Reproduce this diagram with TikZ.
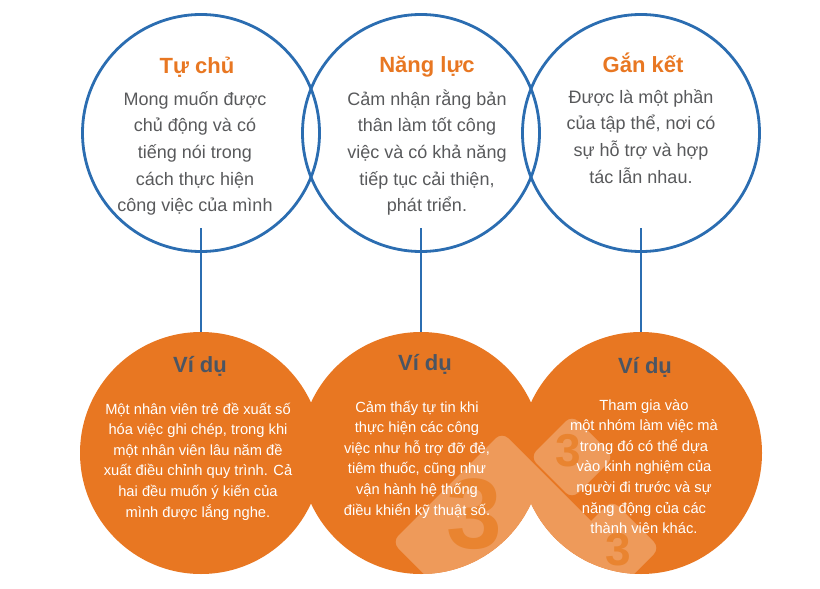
\documentclass[tikz,border=0pt]{standalone}
\usepackage{fontspec}
\setmainfont{Liberation Sans}
\definecolor{cblue}{HTML}{2B6DB1}
\definecolor{corange}{HTML}{E87722}
\definecolor{cgray}{HTML}{58595B}
\definecolor{cslate}{HTML}{4B5563}
\definecolor{cwm}{HTML}{EE9A5A}
\definecolor{cwmnum}{HTML}{E98430}
\newcommand\bodyblue[1]{\parbox[t]{240pt}{\centering\fontsize{18}{26.7}\selectfont\leavevmode\color{cgray}#1}}
\newcommand\bodywhite[1]{\parbox[t]{240pt}{\centering\fontsize{14.7}{20.6}\selectfont\leavevmode\color{white}#1}}
\begin{document}
\begin{tikzpicture}[x=1pt,y=-1pt,
  bcirc/.style={circle, draw=cblue, line width=2.8pt, minimum size=237pt, inner sep=0pt},
  ocirc/.style={circle, fill=corange, minimum size=242pt, inner sep=0pt},
  link/.style={draw=cblue, line width=2.4pt},
  title/.style={anchor=base, inner sep=0pt, font=\fontsize{22}{26}\selectfont\bfseries, text=corange},
  vidu/.style={anchor=base, inner sep=0pt, font=\fontsize{22}{26}\selectfont\bfseries, text=cslate},
  txt/.style={anchor=base, inner sep=0pt},
  wm/.style={fill=cwm, rounded corners=9pt},
  wmnum/.style={inner sep=0pt, text=cwmnum}
]
\useasboundingbox (0,0) rectangle (820,589);
% blue circles
\node[bcirc] (b1) at (201,133) {};
\node[bcirc] (b2) at (421,133) {};
\node[bcirc] (b3) at (641,133) {};
% connector start points
\coordinate (s1) at (201,228);
\coordinate (s2) at (421,228);
\coordinate (s3) at (641,228);
% orange circles
\node[ocirc] (o1) at (201,453) {};
\node[ocirc] (o2) at (421,453) {};
\node[ocirc] (o3) at (641,453) {};
\draw[link] (s1) -- (o1.north);
\draw[link] (s2) -- (o2.north);
\draw[link] (s3) -- (o3.north);
% watermark
\begin{scope}
  \clip (o1.center) circle (121pt) (o2.center) circle (121pt) (o3.center) circle (121pt);
  \path[wm] (502,432) -- (612,542) -- (502,652) -- (392,542) -- cycle;
  \node[wmnum, font=\fontsize{100}{100}\selectfont\bfseries] (n1) at (474,514) {3};
  \path[wm] (572,415) -- (614,457) -- (572,499) -- (530,457) -- cycle;
  \node[wmnum, font=\fontsize{46}{46}\selectfont\bfseries] (n2) at (568,451) {3};
  \path[wm] (612,500) -- (660,548) -- (612,596) -- (564,548) -- cycle;
  \node[wmnum, font=\fontsize{46}{46}\selectfont\bfseries] (n3) at (618,550) {3};
\end{scope}
% titles
\node[title] (t1) at (197,73) {Tự chủ};
\node[title] (t2) at (427,72) {Năng lực};
\node[title] (t3) at (643,72) {Gắn kết};
\node[txt] (d1) at (195,105) {\bodyblue{Mong muốn được\\chủ động và có\\tiếng nói trong\\cách thực hiện\\công việc của mình}};
\node[txt] (d2) at (427,105) {\bodyblue{Cảm nhận rằng bản\\thân làm tốt công\\việc và có khả năng\\tiếp tục cải thiện,\\phát triển.}};
\node[txt] (d3) at (641,103) {\bodyblue{Được là một phần\\của tập thể, nơi có\\sự hỗ trợ và hợp\\tác lẫn nhau.}};
% examples
\node[vidu] (v1) at (200,372) {Ví dụ};
\node[vidu] (v2) at (425,370) {Ví dụ};
\node[vidu] (v3) at (645,373) {Ví dụ};
\node[txt] (e1) at (198,414) {\bodywhite{Một nhân viên trẻ đề xuất số\\hóa việc ghi chép, trong khi\\một nhân viên lâu năm đề\\xuất điều chỉnh quy trình. Cả\\hai đều muốn ý kiến của\\mình được lắng nghe.}};
\node[txt] (e2) at (417,412) {\bodywhite{Cảm thấy tự tin khi\\thực hiện các công\\việc như hỗ trợ đỡ đẻ,\\tiêm thuốc, cũng như\\vận hành hệ thống\\điều khiển kỹ thuật số.}};
\node[txt] (e3) at (644,410) {\bodywhite{Tham gia vào\\một nhóm làm việc mà\\trong đó có thể dựa\\vào kinh nghiệm của\\người đi trước và sự\\năng động của các\\thành viên khác.}};
\end{tikzpicture}
\end{document}
